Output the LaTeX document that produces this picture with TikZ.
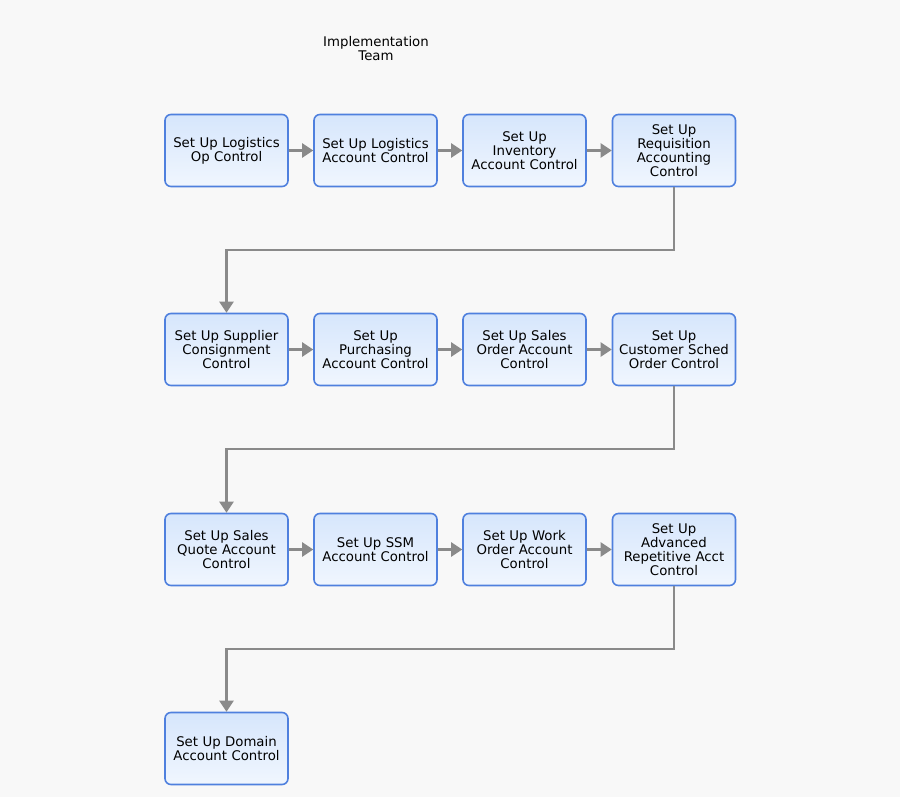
\documentclass[tikz,border=0pt]{standalone}
\usepackage{fontspec}
\setmainfont{DejaVu Sans}
\usetikzlibrary{arrows.meta}
\definecolor{bgc}{HTML}{F8F8F8}
\definecolor{bord}{HTML}{4F80DE}
\definecolor{ftop}{HTML}{D6E6FC}
\definecolor{fbot}{HTML}{F0F6FE}
\definecolor{conn}{HTML}{8A8A8A}
\begin{document}
\begin{tikzpicture}[x=1pt,y=-1pt,
  task/.style={draw=bord, line width=1.6pt, rounded corners=6pt, top color=ftop, bottom color=fbot,
    minimum width=122pt, minimum height=72pt, align=center, inner sep=1pt,
    font=\fontsize{13.3}{14}\selectfont, text width=121pt},
  flow/.style={draw=conn, line width=2.2pt, -{Triangle[length=11pt,width=14pt]}},
  every node/.append style={text=black}]
\fill[bgc] (0,0) rectangle (900,797);
\useasboundingbox (0,0) rectangle (900,797);
\node[font=\fontsize{13.3}{14}\selectfont, align=center] (title) at (376,49) {Implementation\\Team};
\node[task] (a1) at (226.5,150.5) {Set Up Logistics\\Op Control};
\node[task] (a2) at (375.5,150.5) {Set Up Logistics\\Account Control};
\node[task] (a3) at (524.5,150.5) {Set Up\\Inventory\\Account Control};
\node[task] (a4) at (674,150.5) {Set Up\\Requisition\\Accounting\\Control};
\node[task] (b1) at (226.5,349.5) {Set Up Supplier\\Consignment\\Control};
\node[task] (b2) at (375.5,349.5) {Set Up\\Purchasing\\Account Control};
\node[task] (b3) at (524.5,349.5) {Set Up Sales\\Order Account\\Control};
\node[task] (b4) at (674,349.5) {Set Up\\Customer Sched\\Order Control};
\node[task] (c1) at (226.5,549.5) {Set Up Sales\\Quote Account\\Control};
\node[task] (c2) at (375.5,549.5) {Set Up SSM\\Account Control};
\node[task] (c3) at (524.5,549.5) {Set Up Work\\Order Account\\Control};
\node[task] (c4) at (674,549.5) {Set Up\\Advanced\\Repetitive Acct\\Control};
\node[task] (d1) at (226.5,748.5) {Set Up Domain\\Account Control};
\draw[flow] (a1) -- (a2);
\draw[flow] (a2) -- (a3);
\draw[flow] (a3) -- (a4);
\draw[flow] (b1) -- (b2);
\draw[flow] (b2) -- (b3);
\draw[flow] (b3) -- (b4);
\draw[flow] (c1) -- (c2);
\draw[flow] (c2) -- (c3);
\draw[flow] (c3) -- (c4);
\draw[flow] (a4.south) -- ++(0,63) -| (b1.north);
\draw[flow] (b4.south) -- ++(0,63) -| (c1.north);
\draw[flow] (c4.south) -- ++(0,63) -| (d1.north);
\end{tikzpicture}
\end{document}
